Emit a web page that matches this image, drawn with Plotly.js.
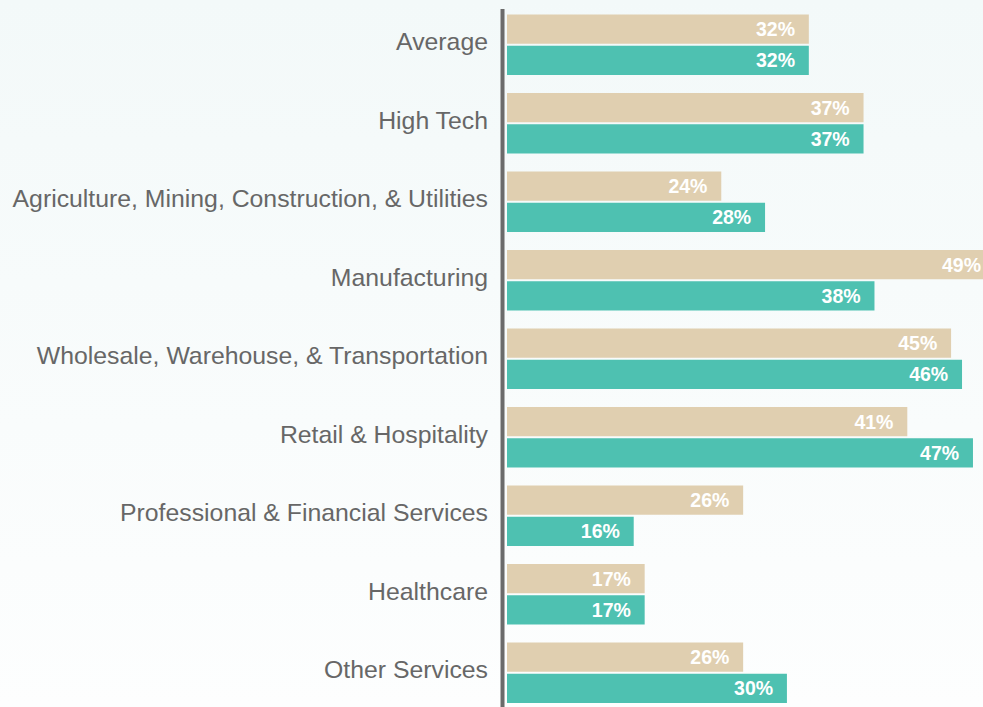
<!DOCTYPE html>
<html>
<head>
<meta charset="utf-8">
<script src="https://cdn.plot.ly/plotly-3.0.1.min.js"></script>
<style>
  html, body { margin: 0; padding: 0; overflow: hidden; width: 983px; height: 707px;
    background: linear-gradient(to bottom, #f3f9f9 0%, #fdfefe 100%); }
  #chart { width: 1000px; height: 707px; }
</style>
</head>
<body>
<div id="chart"></div>
<script>
const categories = [
  "Average",
  "High Tech",
  "Agriculture, Mining, Construction, & Utilities",
  "Manufacturing",
  "Wholesale, Warehouse, & Transportation",
  "Retail & Hospitality",
  "Professional & Financial Services",
  "Healthcare",
  "Other Services"
];
const seriesBeige = [32, 37, 24, 49, 45, 41, 26, 17, 26];
const seriesTeal  = [32, 37, 28, 38, 46, 47, 16, 17, 30];

const beigeColor = "#e0cfb0";
const tealColor = "#4ec1b1";

const textFont = { family: "Liberation Sans, Arial, sans-serif", size: 19.5, color: "#ffffff", weight: "bold" };

function barTrace(values, color, name) {
  return {
    type: "bar",
    orientation: "h",
    name: name,
    y: categories,
    x: values,
    marker: { color: color, line: { width: 0 } },
    texttemplate: "%{x}%\u00a0\u00a0",
    textposition: "inside",
    insidetextanchor: "end",
    textangle: 0,
    constraintext: "none",
    textfont: textFont,
    hoverinfo: "skip"
  };
}

const data = [
  barTrace(seriesBeige, beigeColor, "Series A"),
  barTrace(seriesTeal, tealColor, "Series B")
];

const layout = {
  width: 1000,
  height: 707,
  margin: { l: 507, r: 0, t: 9, b: 0, pad: 0 },
  paper_bgcolor: "rgba(0,0,0,0)",
  plot_bgcolor: "rgba(0,0,0,0)",
  barmode: "group",
  bargap: 0.203,
  bargroupgap: 0.064,
  showlegend: false,
  xaxis: {
    range: [4.42, 49.47],
    showgrid: false,
    zeroline: false,
    showline: false,
    showticklabels: false,
    ticks: ""
  },
  yaxis: {
    type: "category",
    range: [8.436, -0.456],
    showgrid: false,
    zeroline: false,
    showline: false,
    ticks: "",
    ticklabelstandoff: 18,
    ticklabelshift: 3,
    tickfont: { family: "Liberation Sans, Arial, sans-serif", size: 24.8, color: "#676767" }
  },
  shapes: [{
    type: "line",
    xref: "paper", yref: "paper",
    x0: -0.0091, x1: -0.0091,
    y0: -0.05, y1: 1,
    line: { color: "#6b6b6b", width: 4 }
  }]
};

Plotly.newPlot("chart", data, layout, { staticPlot: true, displayModeBar: false });
</script>
</body>
</html>
